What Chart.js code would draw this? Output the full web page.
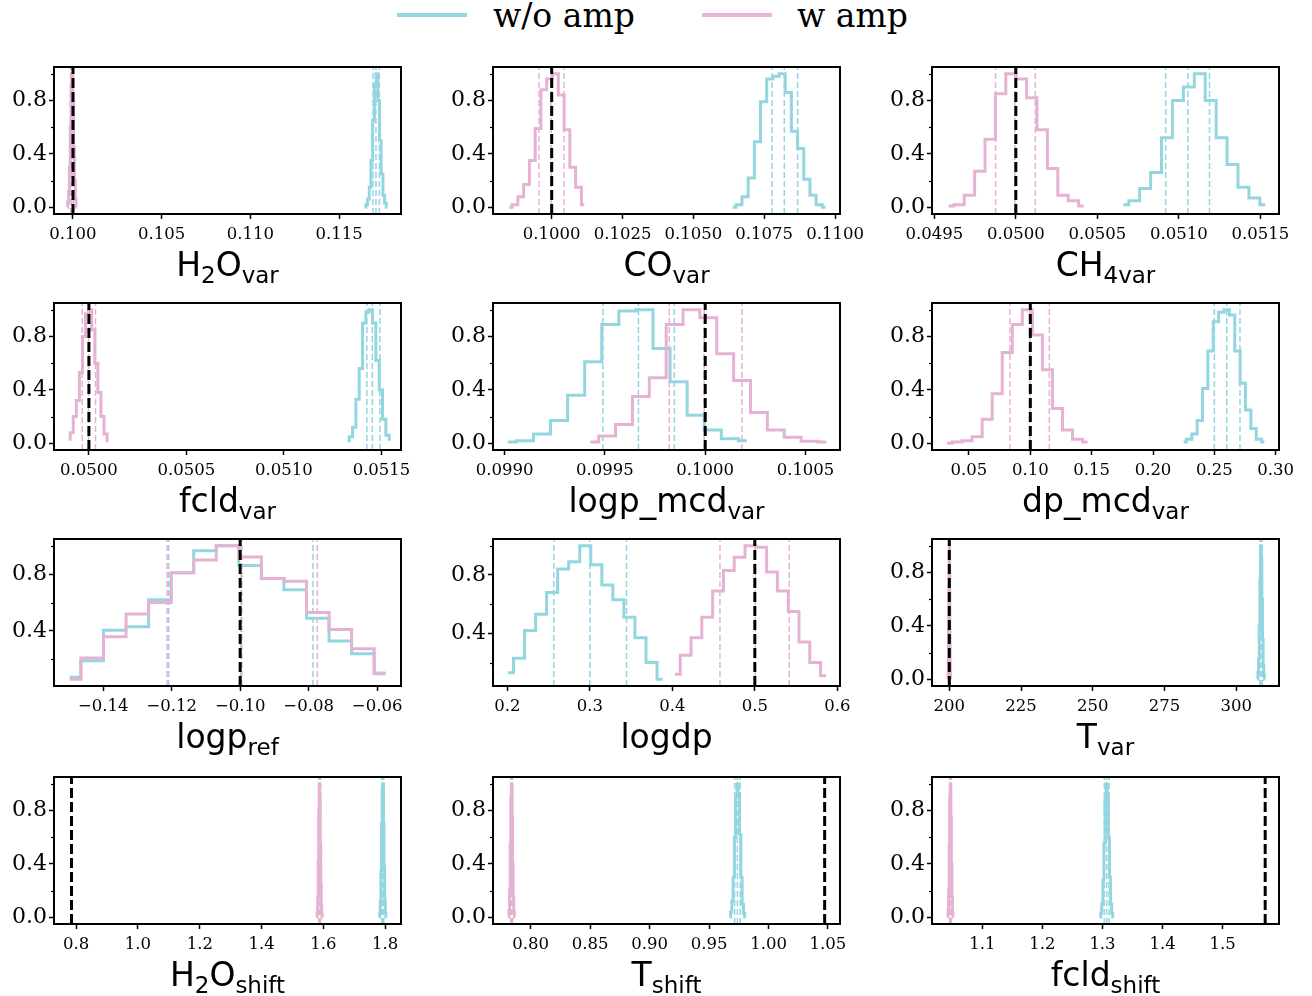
<!DOCTYPE html>
<html>
<head>
<meta charset="utf-8">
<script src="https://cdn.jsdelivr.net/npm/chart.js@4.4.0/dist/chart.umd.min.js"></script>
<style>
  body { margin: 0; background: #fff; width: 1312px; height: 996px; position: relative; overflow: hidden; }
  canvas { position: absolute; }
  .xt { position: absolute; font: 33px 'DejaVu Sans'; line-height: 33px; white-space: nowrap; transform: translateX(-50%); color: #000; }
  .xt sub { font-size: 23px; vertical-align: -7px; line-height: 0; }
  .sw { position: absolute; height: 4px; width: 70px; top: 13px; }
  .lt { position: absolute; top: -1px; font: 33px 'DejaVu Serif'; line-height: 33px; white-space: nowrap; color: #000; }
</style>
</head>
<body>
<div class="sw" style="left:397px;background:#93d6e0"></div>
<div class="lt" style="left:493px">w/o amp</div>
<div class="sw" style="left:702px;background:#e8b6d5"></div>
<div class="lt" style="left:797px">w amp</div>
<script>
// each histogram: [first bin centre, last bin centre] + peak-normalised counts
// "A" = w/o amp (cyan), "B" = w amp (pink); Pct = 16/50/84 percentiles
const h2oVarBinsA = [0.11645, 0.11770];
const h2oVarHistA = [0.0, 0.02, 0.06, 0.15, 0.35, 0.65, 0.92, 1.0, 0.8, 0.5, 0.25, 0.09, 0.03, 0.0];
const h2oVarPctA = [0.11690, 0.11707, 0.11726];
const h2oVarBinsB = [0.09968, 0.10020];
const h2oVarHistB = [0.0, 0.04, 0.12, 0.3, 0.6, 0.9, 1.0, 0.78, 0.45, 0.2, 0.06, 0.0];
const h2oVarPctB = [0.09986, 0.09994, 0.10002];
const h2oVarTruth = 0.1;

const coVarBinsA = [0.10639, 0.10966];
const coVarHistA = [0.0, 0.02, 0.08, 0.22, 0.49, 0.79, 0.96, 0.98, 1.0, 0.86, 0.57, 0.44, 0.21, 0.09, 0.02, 0.0];
const coVarPctA = [0.10778, 0.10821, 0.10868];
const coVarBinsB = [0.09850, 0.10115];
const coVarHistB = [0.0, 0.02, 0.08, 0.17, 0.35, 0.59, 0.88, 0.96, 1.0, 0.84, 0.58, 0.3, 0.15, 0.02];
const coVarPctB = [0.09955, 0.09998, 0.10043];
const coVarTruth = 0.1;

const ch4VarBinsA = [0.050659, 0.051530];
const ch4VarHistA = [0.02, 0.05, 0.14, 0.26, 0.52, 0.80, 0.90, 1.0, 0.80, 0.52, 0.32, 0.15, 0.07, 0.02];
const ch4VarPctA = [0.050919, 0.051055, 0.051188];
const ch4VarBinsB = [0.049588, 0.050417];
const ch4VarHistB = [0.01, 0.02, 0.09, 0.27, 0.51, 0.85, 1.0, 0.96, 0.82, 0.58, 0.29, 0.09, 0.05, 0.01];
const ch4VarPctB = [0.049876, 0.049995, 0.050119];
const ch4VarTruth = 0.05;

const fcldVarBinsA = [0.051326, 0.051548];
const fcldVarHistA = [0.02, 0.05, 0.12, 0.33, 0.56, 0.9, 0.98, 1.0, 0.9, 0.62, 0.4, 0.18, 0.06, 0.03];
const fcldVarPctA = [0.051425, 0.051453, 0.051492];
const fcldVarBinsB = [0.049896, 0.050101];
const fcldVarHistB = [0.03, 0.08, 0.2, 0.32, 0.53, 0.8, 0.97, 1.0, 0.85, 0.6, 0.38, 0.2, 0.07, 0.02];
const fcldVarPctB = [0.049966, 0.049998, 0.050034];
const fcldVarTruth = 0.05;

const logpMcdBinsA = [0.099016, 0.100208];
const logpMcdHistA = [0.01, 0.02, 0.07, 0.17, 0.36, 0.61, 0.89, 0.99, 1.0, 0.71, 0.46, 0.21, 0.1, 0.035, 0.02];
const logpMcdPctA = [0.099490, 0.099667, 0.099846];
const logpMcdBinsB = [0.099427, 0.100604];
const logpMcdHistB = [0.01, 0.055, 0.14, 0.35, 0.49, 0.89, 1.0, 0.94, 0.67, 0.47, 0.23, 0.10, 0.045, 0.015, 0.01];
const logpMcdPctB = [0.099821, 0.099995, 0.100183];
const logpMcdTruth = 0.1;

const dpMcdBinsA = [0.2250, 0.29075];
const dpMcdHistA = [0.01, 0.03, 0.07, 0.17, 0.41, 0.69, 0.91, 0.98, 1.0, 0.96, 0.69, 0.45, 0.25, 0.11, 0.03, 0.01];
const dpMcdPctA = [0.2500, 0.2601, 0.2709];
const dpMcdBinsB = [0.0321, 0.1467];
const dpMcdHistB = [0.0, 0.01, 0.02, 0.05, 0.18, 0.37, 0.68, 0.89, 1.0, 0.81, 0.55, 0.26, 0.10, 0.03, 0.01];
const dpMcdPctB = [0.0834, 0.0998, 0.1155];
const dpMcdTruth = 0.1;

const logpRefBinsA = [-0.14981, -0.05756];
const logpRefHistA = [0.075, 0.19, 0.405, 0.43, 0.62, 0.81, 0.965, 1.0, 0.86, 0.77, 0.69, 0.49, 0.33, 0.24, 0.10];
const logpRefPctA = [-0.12088, -0.0998, -0.07874];
const logpRefBinsB = [-0.14981, -0.05756];
const logpRefHistB = [0.06, 0.21, 0.36, 0.52, 0.60, 0.81, 0.90, 1.0, 0.92, 0.77, 0.75, 0.53, 0.41, 0.275, 0.105];
const logpRefPctB = [-0.12135, -0.0995, -0.07748];
const logpRefTruth = -0.1;

const logdpBinsA = [0.2007, 0.3881];
const logdpHistA = [0.13, 0.23, 0.42, 0.53, 0.68, 0.84, 0.89, 1.0, 0.87, 0.73, 0.63, 0.51, 0.37, 0.2, 0.085];
const logdpPctA = [0.2562, 0.3000, 0.3444];
const logdpBinsB = [0.4030, 0.5863];
const logdpHistB = [0.12, 0.25, 0.37, 0.51, 0.69, 0.83, 0.92, 1.0, 0.99, 0.82, 0.69, 0.55, 0.34, 0.2, 0.11];
const logdpPctB = [0.4577, 0.5005, 0.5418];
const logdpTruth = 0.5;

const tVarBinsA = [307.4, 309.9];
const tVarHistA = [0.0, 0.05, 0.15, 0.4, 0.75, 1.0, 0.9, 0.6, 0.3, 0.1, 0.03, 0.0];
const tVarPctA = [308.2, 308.6, 309.0];
const tVarBinsB = [199.5, 200.5];
const tVarHistB = [0.0, 0.04, 0.14, 0.38, 0.7, 0.95, 1.0, 0.65, 0.32, 0.12, 0.03, 0.0];
const tVarPctB = [199.85, 200.0, 200.15];
const tVarTruth = 200;

const h2oShiftBinsA = [1.781, 1.803];
const h2oShiftHistA = [0.0, 0.03, 0.12, 0.35, 0.7, 0.95, 1.0, 0.7, 0.38, 0.13, 0.03, 0.0];
const h2oShiftPctA = [1.789, 1.792, 1.795];
const h2oShiftBinsB = [1.579, 1.597];
const h2oShiftHistB = [0.0, 0.04, 0.15, 0.42, 0.8, 1.0, 0.9, 0.55, 0.25, 0.08, 0.02, 0.0];
const h2oShiftPctB = [1.585, 1.588, 1.591];
const h2oShiftTruth = 0.785;

const tShiftBinsA = [0.9675, 0.9805];
const tShiftHistA = [0.0, 0.04, 0.12, 0.3, 0.6, 0.9, 1.0, 0.92, 0.62, 0.3, 0.1, 0.03, 0.0];
const tShiftPctA = [0.9715, 0.9738, 0.9762];
const tShiftBinsB = [0.7815, 0.7865];
const tShiftHistB = [0.0, 0.05, 0.2, 0.55, 0.9, 1.0, 0.75, 0.4, 0.15, 0.04, 0.0];
const tShiftPctB = [0.7832, 0.7840, 0.7848];
const tShiftTruth = 1.0472;

const fcldShiftBinsA = [1.296, 1.318];
const fcldShiftHistA = [0.0, 0.03, 0.1, 0.28, 0.55, 0.88, 1.0, 0.9, 0.6, 0.3, 0.1, 0.03, 0.0];
const fcldShiftPctA = [1.303, 1.307, 1.311];
const fcldShiftBinsB = [1.0425, 1.0515];
const fcldShiftHistB = [0.0, 0.05, 0.2, 0.55, 0.9, 1.0, 0.75, 0.4, 0.15, 0.04, 0.0];
const fcldShiftPctB = [1.0455, 1.047, 1.0485];
const fcldShiftTruth = 1.5708;

// x tick labels per panel
const h2oVarTicks = [0.100, 0.105, 0.110, 0.115];
const coVarTicks = [0.1000, 0.1025, 0.1050, 0.1075, 0.1100];
const ch4VarTicks = [0.0495, 0.0500, 0.0505, 0.0510, 0.0515];
const fcldVarTicks = [0.0500, 0.0505, 0.0510, 0.0515];
const logpMcdTicks = [0.0990, 0.0995, 0.1000, 0.1005];
const dpMcdTicks = [0.05, 0.10, 0.15, 0.20, 0.25, 0.30];
const logpRefTicks = [-0.14, -0.12, -0.10, -0.08, -0.06];
const logdpTicks = [0.2, 0.3, 0.4, 0.5, 0.6];
const tVarTicks = [200, 225, 250, 275, 300];
const h2oShiftTicks = [0.8, 1.0, 1.2, 1.4, 1.6, 1.8];
const tShiftTicks = [0.80, 0.85, 0.90, 0.95, 1.00, 1.05];
const fcldShiftTicks = [1.1, 1.2, 1.3, 1.4, 1.5];
const yMajor = [0.0, 0.4, 0.8];
const yMinor = [0.2, 0.6, 1.0];

const CYAN = '#93d6e0';
const PINK = '#e6b2d3';

const panels = [
  { title: 'H<sub>2</sub>O<sub>var</sub>', A: [h2oVarBinsA, h2oVarHistA, h2oVarPctA], B: [h2oVarBinsB, h2oVarHistB, h2oVarPctB], truth: h2oVarTruth, ticks: h2oVarTicks, dec: 3, xlim: [0.09893, 0.11848] },
  { title: 'CO<sub>var</sub>', A: [coVarBinsA, coVarHistA, coVarPctA], B: [coVarBinsB, coVarHistB, coVarPctB], truth: coVarTruth, ticks: coVarTicks, dec: 4, xlim: [0.097928, 0.110176] },
  { title: 'CH<sub>4var</sub>', A: [ch4VarBinsA, ch4VarHistA, ch4VarPctA], B: [ch4VarBinsB, ch4VarHistB, ch4VarPctB], truth: ch4VarTruth, ticks: ch4VarTicks, dec: 4, xlim: [0.049486, 0.051614] },
  { title: 'fcld<sub>var</sub>', A: [fcldVarBinsA, fcldVarHistA, fcldVarPctA], B: [fcldVarBinsB, fcldVarHistB, fcldVarPctB], truth: fcldVarTruth, ticks: fcldVarTicks, dec: 4, xlim: [0.049821, 0.0516] },
  { title: 'logp_mcd<sub>var</sub>', A: [logpMcdBinsA, logpMcdHistA, logpMcdPctA], B: [logpMcdBinsB, logpMcdHistB, logpMcdPctB], truth: logpMcdTruth, ticks: logpMcdTicks, dec: 4, xlim: [0.098942, 0.100672] },
  { title: 'dp_mcd<sub>var</sub>', A: [dpMcdBinsA, dpMcdHistA, dpMcdPctA], B: [dpMcdBinsB, dpMcdHistB, dpMcdPctB], truth: dpMcdTruth, ticks: dpMcdTicks, dec: 2, xlim: [0.01986, 0.3027] },
  { title: 'logp<sub>ref</sub>', A: [logpRefBinsA, logpRefHistA, logpRefPctA], B: [logpRefBinsB, logpRefHistB, logpRefPctB], truth: logpRefTruth, ticks: logpRefTicks, dec: 2, xlim: [-0.15438, -0.05302], autoY: true },
  { title: 'logdp', A: [logdpBinsA, logdpHistA, logdpPctA], B: [logdpBinsB, logdpHistB, logdpPctB], truth: logdpTruth, ticks: logdpTicks, dec: 1, xlim: [0.1825, 0.6033], autoY: true },
  { title: 'T<sub>var</sub>', A: [tVarBinsA, tVarHistA, tVarPctA], B: [tVarBinsB, tVarHistB, tVarPctB], truth: tVarTruth, ticks: tVarTicks, dec: 0, xlim: [193.97, 314.86] },
  { title: 'H<sub>2</sub>O<sub>shift</sub>', A: [h2oShiftBinsA, h2oShiftHistA, h2oShiftPctA], B: [h2oShiftBinsB, h2oShiftHistB, h2oShiftPctB], truth: h2oShiftTruth, ticks: h2oShiftTicks, dec: 1, xlim: [0.7284, 1.851] },
  { title: 'T<sub>shift</sub>', A: [tShiftBinsA, tShiftHistA, tShiftPctA], B: [tShiftBinsB, tShiftHistB, tShiftPctB], truth: tShiftTruth, ticks: tShiftTicks, dec: 2, xlim: [0.7683, 1.0601] },
  { title: 'fcld<sub>shift</sub>', A: [fcldShiftBinsA, fcldShiftHistA, fcldShiftPctA], B: [fcldShiftBinsB, fcldShiftHistB, fcldShiftPctB], truth: fcldShiftTruth, ticks: fcldShiftTicks, dec: 1, xlim: [1.0162, 1.5938] }
];

// layout of the 4x3 grid (plot areas)
const colLeft = [54, 493, 932];
const rowTop = [67, 303, 539, 777];
const W = 347, H = 147;
const YW = 60, PT = 10, PR = 45, XH = 38;

function stepPoints(bins, hist) {
  const dx = (bins[1] - bins[0]) / (hist.length - 1);
  return hist.map((h, i) => ({ x: bins[0] + i * dx, y: h }));
}

function vline(x, lo, hi, color, width, dash) {
  return {
    data: [{ x: x, y: lo }, { x: x, y: hi }],
    borderColor: color, borderWidth: width, borderDash: dash,
    pointRadius: 0, fill: false
  };
}

function fmt(v, dec) {
  const s = Math.abs(v).toFixed(dec);
  return v < -1e-12 ? '\u2212' + s : s;
}

const frame = {
  id: 'frame',
  afterDraw(chart) {
    const { ctx, chartArea: a, scales } = chart;
    ctx.save();
    ctx.strokeStyle = '#000';
    // minor y ticks
    ctx.lineWidth = 1.2;
    yMinor.forEach(v => {
      if (v < scales.y.min || v > scales.y.max) return;
      const y = Math.round(scales.y.getPixelForValue(v)) + 0.5;
      ctx.beginPath();
      ctx.moveTo(a.left - 3, y);
      ctx.lineTo(a.left, y);
      ctx.stroke();
    });
    ctx.lineWidth = 2;
    ctx.strokeRect(a.left, a.top, a.right - a.left, a.bottom - a.top);
    ctx.restore();
  }
};

panels.forEach((p, idx) => {
  const col = idx % 3, row = Math.floor(idx / 3);
  const L = colLeft[col], T = rowTop[row];

  const cv = document.createElement('canvas');
  cv.width = YW + W + PR;
  cv.height = PT + H + XH;
  cv.style.left = (L - YW) + 'px';
  cv.style.top = (T - PT) + 'px';
  document.body.appendChild(cv);

  let ylo = -0.05, yhi = 1.05;
  if (p.autoY) {
    const m = Math.min(...p.A[1], ...p.B[1]);
    ylo = m - 0.05 * (1 - m);
    yhi = 1 + 0.05 * (1 - m);
  }

  // index 0 is drawn on top
  const datasets = [];
  datasets.push(vline(p.truth, ylo, yhi, '#000', 3, [10, 4]));
  p.B[2].forEach(v => datasets.push(vline(v, ylo, yhi, PINK, 1.5, [6, 3])));
  datasets.push({ data: stepPoints(p.B[0], p.B[1]), borderColor: PINK, borderWidth: 3, stepped: 'middle', pointRadius: 0, fill: false });
  p.A[2].forEach(v => datasets.push(vline(v, ylo, yhi, CYAN, 1.5, [6, 3])));
  datasets.push({ data: stepPoints(p.A[0], p.A[1]), borderColor: CYAN, borderWidth: 3, stepped: 'middle', pointRadius: 0, fill: false });

  new Chart(cv, {
    type: 'line',
    data: { datasets },
    options: {
      responsive: false,
      maintainAspectRatio: false,
      animation: false,
      devicePixelRatio: 1,
      layout: { padding: { top: PT, right: PR, left: 0, bottom: 0 } },
      plugins: { legend: { display: false }, tooltip: { enabled: false } },
      elements: { line: { tension: 0 }, point: { radius: 0 } },
      scales: {
        x: {
          type: 'linear',
          min: p.xlim[0], max: p.xlim[1],
          afterBuildTicks: s => { s.ticks = p.ticks.map(v => ({ value: v })); },
          afterFit: s => { s.height = XH; s.paddingLeft = 0; s.paddingRight = 0; },
          ticks: {
            font: { family: 'DejaVu Serif', size: 16.5 },
            color: '#000', padding: 6, maxRotation: 0, minRotation: 0, autoSkip: false,
            callback: v => fmt(v, p.dec)
          },
          grid: { drawOnChartArea: false, drawTicks: true, tickLength: 5, tickWidth: 1.5, color: '#000' },
          border: { display: false }
        },
        y: {
          type: 'linear',
          min: ylo, max: yhi,
          afterBuildTicks: s => { s.ticks = yMajor.filter(v => v >= ylo && v <= yhi).map(v => ({ value: v })); },
          afterFit: s => { s.width = YW; s.paddingTop = 0; s.paddingBottom = 0; },
          ticks: {
            font: { family: 'DejaVu Serif', size: 22 },
            color: '#000', padding: 2,
            callback: v => v.toFixed(1)
          },
          grid: { drawOnChartArea: false, drawTicks: true, tickLength: 5, tickWidth: 1.5, color: '#000' },
          border: { display: false }
        }
      }
    },
    plugins: [frame]
  });

  const t = document.createElement('div');
  t.className = 'xt';
  t.innerHTML = p.title;
  t.style.left = (L + W / 2) + 'px';
  t.style.top = (T + H + 63 - 29) + 'px';
  document.body.appendChild(t);
});
</script>
</body>
</html>
